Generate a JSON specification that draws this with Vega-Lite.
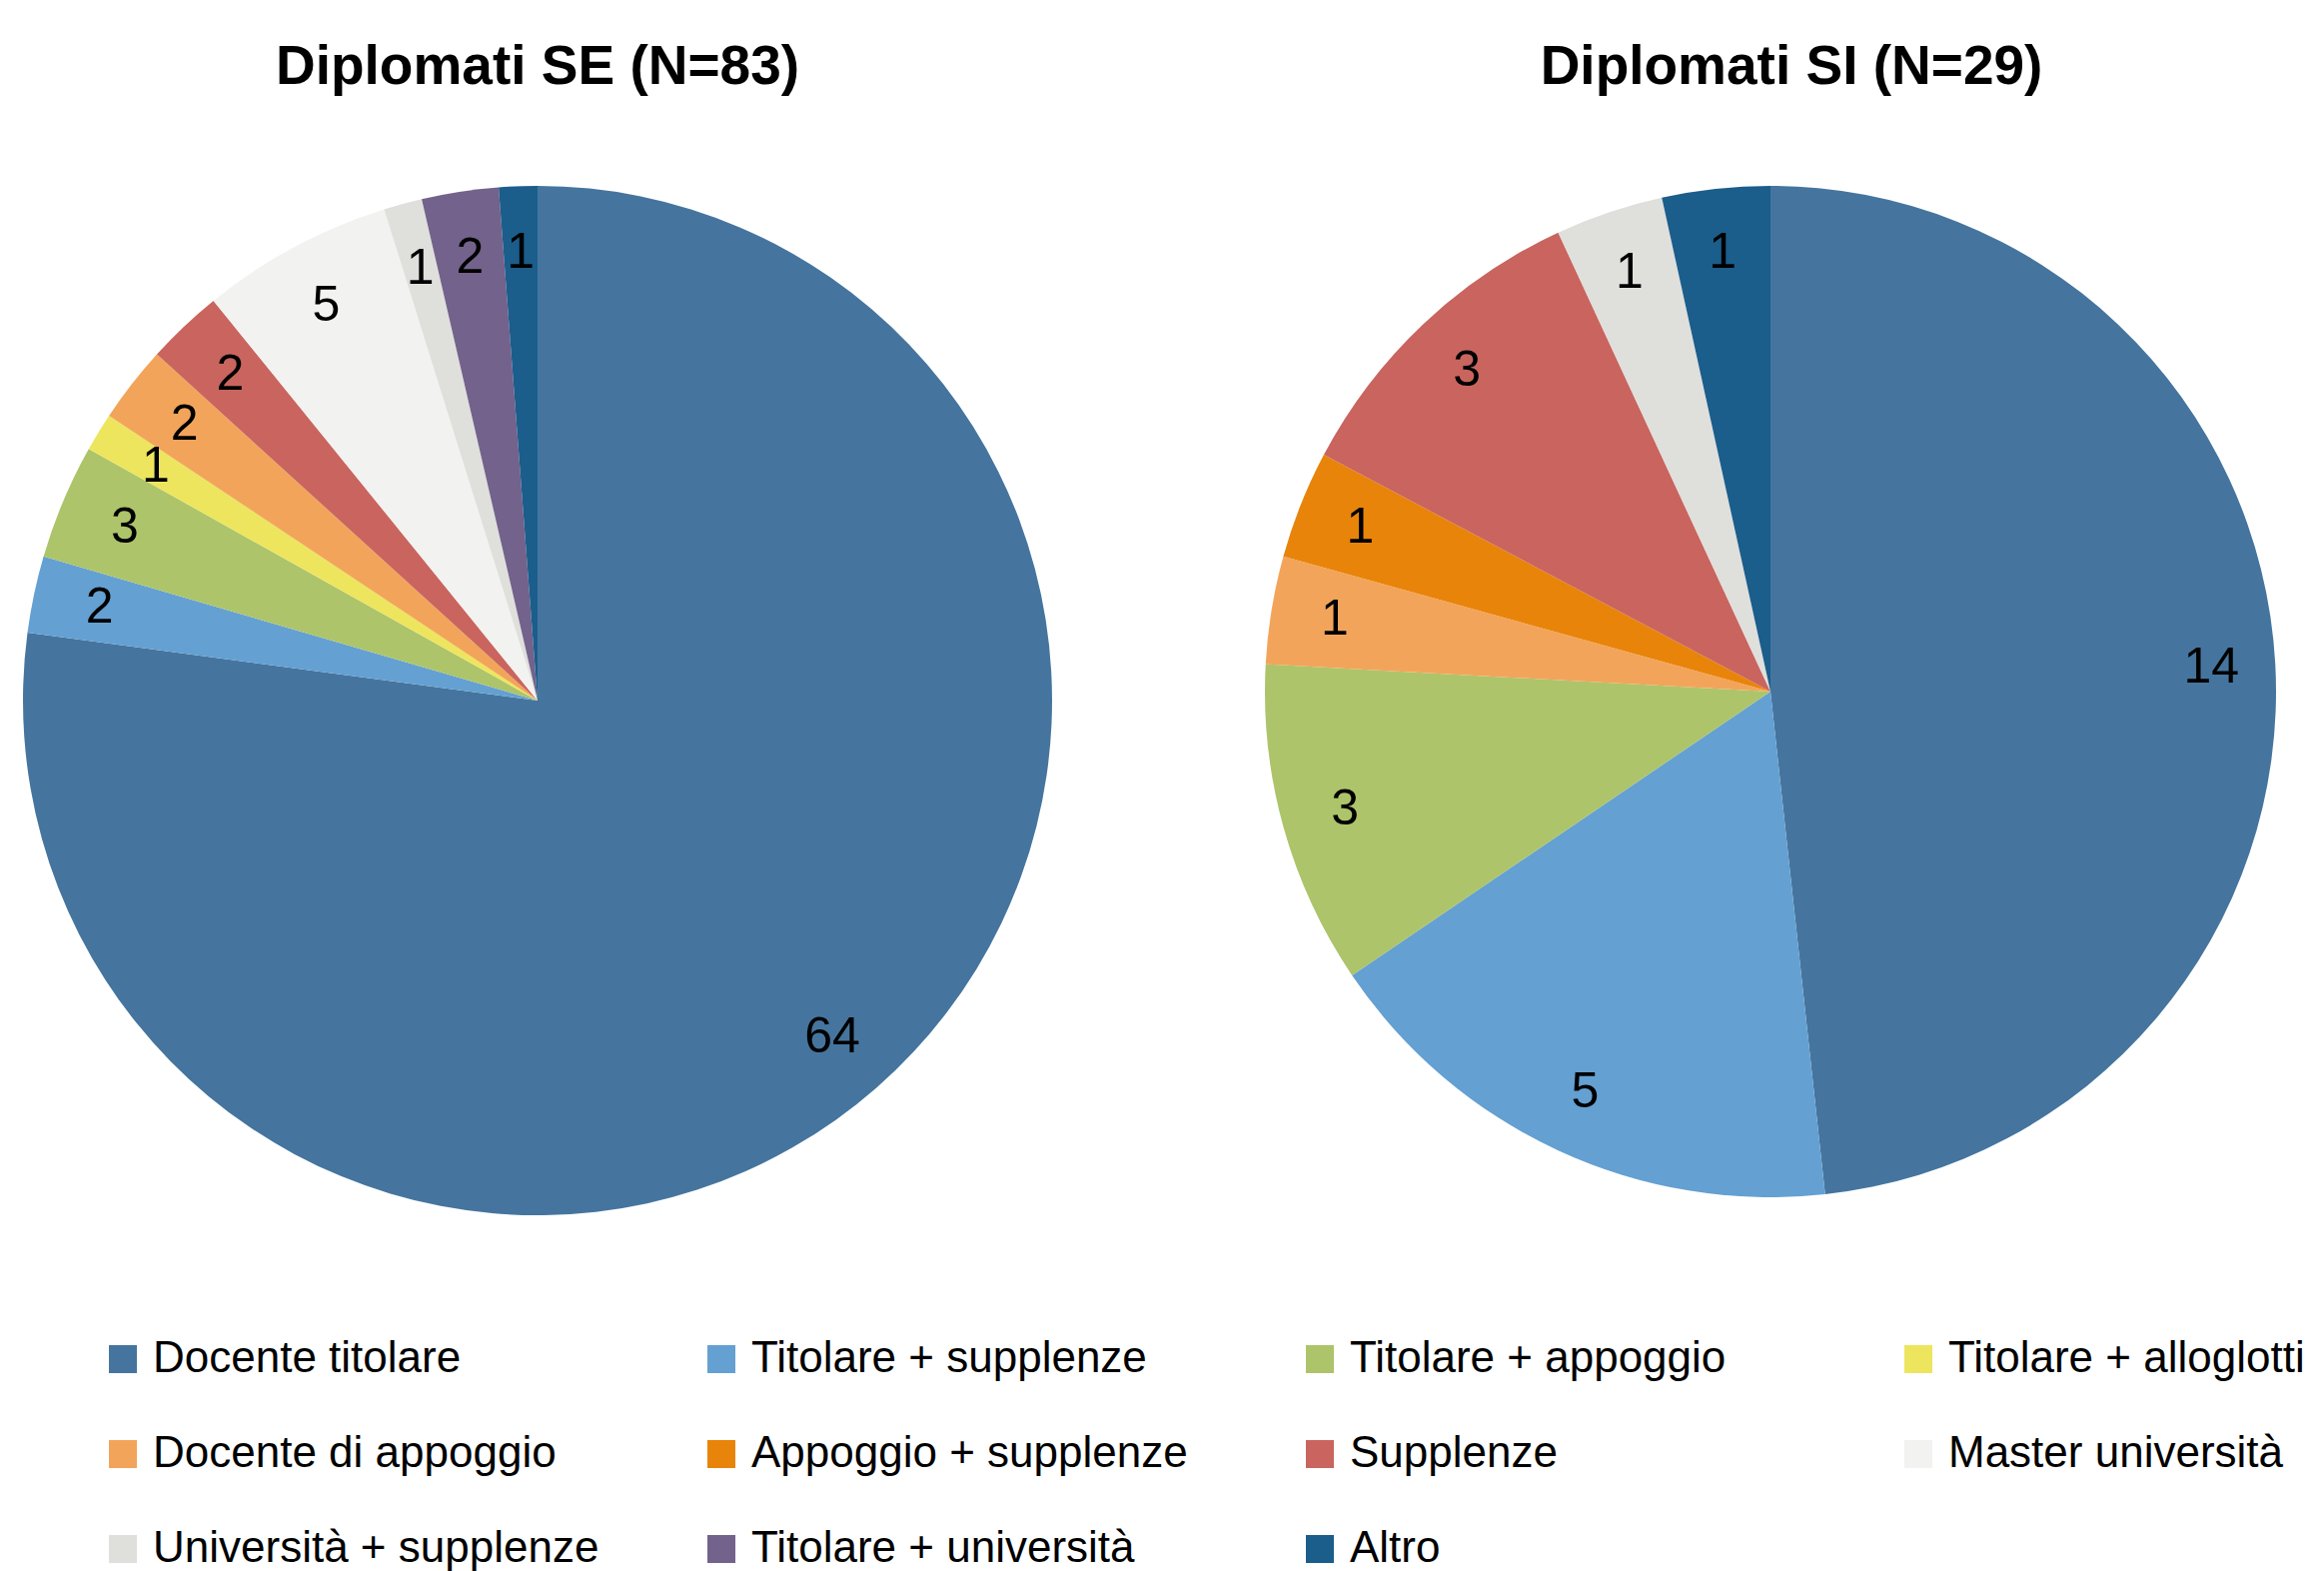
{
  "$schema": "https://vega.github.io/schema/vega-lite/v6.json",
  "background": "white",
  "padding": {"left": 0, "top": 40, "right": 0, "bottom": 0},
  "datasets": {
    "se": [
      {"cat": "Docente titolare", "idx": 1, "n": 64},
      {"cat": "Titolare + supplenze", "idx": 2, "n": 2},
      {"cat": "Titolare + appoggio", "idx": 3, "n": 3},
      {"cat": "Titolare + alloglotti", "idx": 4, "n": 1},
      {"cat": "Docente di appoggio", "idx": 5, "n": 2},
      {"cat": "Supplenze", "idx": 7, "n": 2},
      {"cat": "Master università", "idx": 8, "n": 5},
      {"cat": "Università + supplenze", "idx": 9, "n": 1},
      {"cat": "Titolare + università", "idx": 10, "n": 2},
      {"cat": "Altro", "idx": 11, "n": 1}
    ],
    "si": [
      {"cat": "Docente titolare", "idx": 1, "n": 14},
      {"cat": "Titolare + supplenze", "idx": 2, "n": 5},
      {"cat": "Titolare + appoggio", "idx": 3, "n": 3},
      {"cat": "Docente di appoggio", "idx": 5, "n": 1},
      {"cat": "Appoggio + supplenze", "idx": 6, "n": 1},
      {"cat": "Supplenze", "idx": 7, "n": 3},
      {"cat": "Università + supplenze", "idx": 9, "n": 1},
      {"cat": "Altro", "idx": 11, "n": 1}
    ]
  },
  "spacing": 190,
  "hconcat": [
    {
      "data": {"name": "se"},
      "width": 1076,
      "height": 1058,
      "title": {"text": "Diplomati SE (N=83)", "offset": 76},
      "encoding": {
        "theta": {"field": "n", "type": "quantitative", "stack": true},
        "order": {"field": "idx", "type": "quantitative"},
        "color": {
          "field": "cat",
          "type": "nominal",
          "scale": {
            "domain": ["Docente titolare", "Titolare + supplenze", "Titolare + appoggio", "Titolare + alloglotti", "Docente di appoggio", "Appoggio + supplenze", "Supplenze", "Master università", "Università + supplenze", "Titolare + università", "Altro"],
            "range": ["#45759e", "#64a0d2", "#adc46a", "#ede55e", "#f2a55a", "#e8840a", "#c9655e", "#f2f2f1", "#dfdfdc", "#73628b", "#1b5d8b"]
          },
          "legend": {
            "orient": "none",
            "legendX": 101,
            "legendY": 1166,
            "direction": "horizontal",
            "columns": 4,
            "title": null
          }
        }
      },
      "layer": [
        {"mark": {"type": "arc", "outerRadius": 515, "strokeWidth": 0}},
        {
          "mark": {"type": "text", "radius": 448, "font": "Liberation Sans", "fontSize": 50, "color": "black"},
          "encoding": {"text": {"field": "n", "type": "quantitative"}, "color": {"value": "black"}}
        }
      ]
    },
    {
      "data": {"name": "si"},
      "width": 1000,
      "height": 1040,
      "title": {"text": "Diplomati SI (N=29)", "offset": 76, "dx": 21},
      "encoding": {
        "theta": {"field": "n", "type": "quantitative", "stack": true},
        "order": {"field": "idx", "type": "quantitative"},
        "color": {"field": "cat", "type": "nominal"}
      },
      "layer": [
        {"mark": {"type": "arc", "outerRadius": 506, "strokeWidth": 0}},
        {
          "mark": {"type": "text", "radius": 442, "font": "Liberation Sans", "fontSize": 50, "color": "black"},
          "encoding": {"text": {"field": "n", "type": "quantitative"}, "color": {"value": "black"}}
        }
      ]
    }
  ],
  "resolve": {"scale": {"color": "shared"}},
  "config": {
    "view": {"stroke": null},
    "title": {"font": "Liberation Sans", "fontSize": 55, "fontWeight": "bold", "color": "black", "anchor": "middle"},
    "legend": {
      "symbolType": "square",
      "symbolSize": 784,
      "symbolStrokeWidth": 0,
      "symbolOpacity": 1,
      "labelFont": "Liberation Sans",
      "labelFontSize": 44,
      "labelColor": "black",
      "labelLimit": 1000,
      "labelOffset": 8,
      "columnPadding": 100,
      "rowPadding": 51,
      "gridAlign": "all"
    }
  }
}
